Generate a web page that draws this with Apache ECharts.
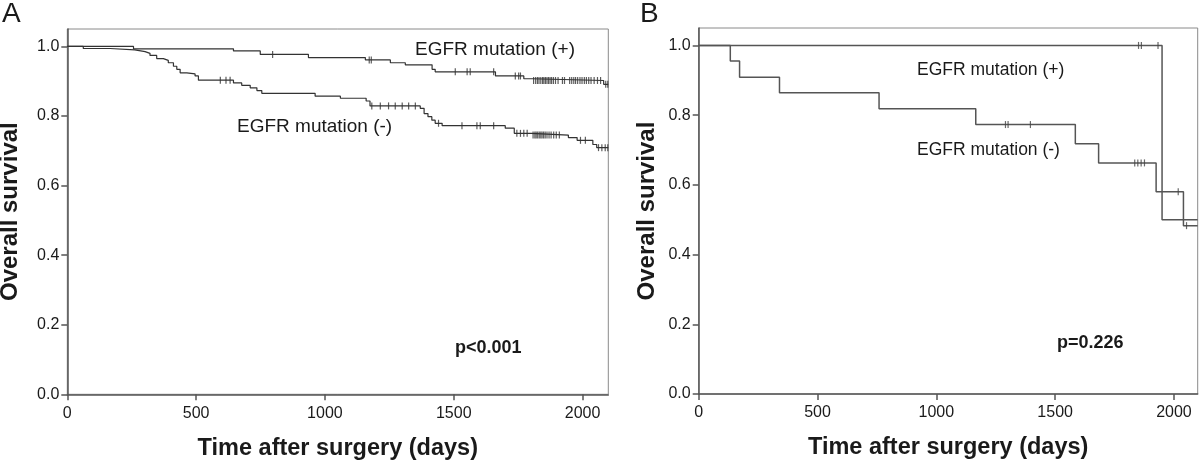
<!DOCTYPE html>
<html>
<head>
<meta charset="utf-8">
<script src="https://cdn.jsdelivr.net/npm/echarts@6/dist/echarts.min.js"></script>
<style>
html,body{margin:0;padding:0;background:#fff;}
#chart{width:1200px;height:460px;}
</style>
</head>
<body>
<div id="chart"></div>
<script>
// ---- Data ----
const xTicks = [0, 500, 1000, 1500, 2000];
const yTicks = [0, 0.2, 0.4, 0.6, 0.8, 1.0];
const xMax = 2100;
const yMax = 1.05;

// Panel A, EGFR mutation (+): step times (days) and survival after each step
const aPosTimes = [0, 257, 645, 749, 936, 1157, 1254, 1312, 1416, 1428, 1662, 1772, 1804, 2082, 2100];
const aPosSurv  = [1.0, 0.993, 0.987, 0.977, 0.968, 0.961, 0.953, 0.947, 0.934, 0.927, 0.915, 0.907, 0.902, 0.891, 0.891];
const aPosCensor = [797, 1172, 1180, 1506, 1552, 1564, 1655, 1739, 1752, 1759,
  1810, 1818, 1825, 1831, 1838, 1845, 1850, 1856, 1862, 1868, 1874, 1880, 1887, 1895, 1905,
  1922, 1930, 1950, 1958, 1966, 1973, 1981, 1990, 1998, 2007, 2015, 2024, 2033, 2045, 2058, 2070, 2090, 2098];

// Panel A, EGFR mutation (-)
const aNegTimes = [0, 62, 166, 262, 302, 321, 347, 373, 392, 412, 425, 438, 464, 496, 509,
  645, 677, 710, 736, 755, 962, 1060, 1160, 1175, 1370, 1385, 1400, 1415, 1428, 1455,
  1700, 1735, 1800, 1945, 1979, 2040, 2055, 2100];
const aNegSurv = [1.0, 0.994, 0.990, 0.985, 0.980, 0.974, 0.965, 0.960, 0.953, 0.943, 0.934, 0.924, 0.921, 0.915, 0.903,
  0.895, 0.888, 0.881, 0.873, 0.865, 0.857, 0.851, 0.843, 0.829, 0.822, 0.807, 0.798, 0.788, 0.779, 0.772,
  0.765, 0.750, 0.745, 0.738, 0.730, 0.718, 0.709, 0.709];
const aNegCensor = [594, 616, 632, 1182, 1215, 1247, 1273, 1300, 1325, 1351, 1441, 1532, 1590, 1603, 1655,
  1745, 1759, 1772, 1785, 1808, 1815, 1820, 1826, 1832, 1838, 1843, 1849, 1855, 1862, 1870, 1878, 1888, 1898, 1910,
  1992, 2011, 2062, 2075, 2088, 2098];

// Panel B, EGFR mutation (+)
const bPosTimes = [0, 1950, 2100];
const bPosSurv  = [1.0, 0.5, 0.5];
const bPosCensor = [1851, 1863, 1933];

// Panel B, EGFR mutation (-)
const bNegTimes = [0, 133, 172, 340, 759, 1166, 1585, 1683, 1925, 2040, 2100];
const bNegSurv  = [1.0, 0.955, 0.909, 0.864, 0.818, 0.773, 0.718, 0.663, 0.580, 0.483, 0.483];
const bNegCensor = [1291, 1302, 1396, 1835, 1848, 1862, 1876, 2018, 2053];

// ---- helpers ----
function steps(times, surv){ return times.map((t,i)=>[t, surv[i]]); }
function survAt(times, surv, t){
  let v = surv[0];
  for (let i=0;i<times.length;i++){ if (times[i] <= t) v = surv[i]; }
  return v;
}
function censors(list, times, surv){ return list.map(t=>[t, survAt(times, surv, t)]); }

const FONT = 'Liberation Sans, Arial, sans-serif';
const txt = '#1a1a1a';

function xAxisDef(idx){
  return {
    type:'value', gridIndex: idx, min:0, max:xMax, interval:500,
    name:'Time after surgery (days)', nameLocation:'middle', nameGap:42,
    nameTextStyle:{fontFamily:FONT, fontWeight:'bold', fontSize:23.5, color:txt},
    axisLine:{show:true, onZero:false, lineStyle:{color:'#555', width:1.5}},
    axisTick:{show:true, length:6, customValues:xTicks, lineStyle:{color:'#555', width:1.5}},
    axisLabel:{customValues:xTicks, fontFamily:FONT, fontSize:16, color:txt, margin:11,
      formatter:v=>String(Math.round(v))},
    splitLine:{show:false}
  };
}
function yAxisDef(idx, gap){
  return {
    type:'value', gridIndex: idx, min:0, max:yMax, interval:0.2,
    name:'Overall survival', nameLocation:'middle', nameGap:gap,
    nameTextStyle:{fontFamily:FONT, fontWeight:'bold', fontSize:24, color:txt},
    axisLine:{show:true, onZero:false, lineStyle:{color:'#555', width:1.5}},
    axisTick:{show:true, length:6, customValues:yTicks, lineStyle:{color:'#555', width:1.5}},
    axisLabel:{customValues:yTicks, fontFamily:FONT, fontSize:16, color:txt, margin:8,
      formatter:v=>Number(v).toFixed(1)},
    splitLine:{show:false}
  };
}
function lineSeries(idx, data, color, width){
  return {type:'line', xAxisIndex:idx, yAxisIndex:idx, step:'end', data:data, symbol:'none',
    lineStyle:{color:color, width:width}, silent:true, clip:true, animation:false, z:3};
}
function censorSeries(idx, data, color){
  return {type:'scatter', xAxisIndex:idx, yAxisIndex:idx, data:data, symbol:'rect', symbolSize:[1.2,7],
    itemStyle:{color:color}, silent:true, animation:false, z:4};
}

const chart = echarts.init(document.getElementById('chart'), null, {renderer:'canvas'});
chart.setOption({
  backgroundColor:'#fff',
  animation:false,
  grid:[
    {left:67.3, top:29, width:541, height:365.3, show:true, borderColor:'#8a8a8a', borderWidth:1,
      backgroundColor:'transparent', containLabel:false, outerBoundsMode:'none'},
    {left:698.7, top:28, width:499, height:366, show:true, borderColor:'#8a8a8a', borderWidth:1,
      backgroundColor:'transparent', containLabel:false, outerBoundsMode:'none'}
  ],
  xAxis:[xAxisDef(0), xAxisDef(1)],
  yAxis:[yAxisDef(0, 45), yAxisDef(1, 39)],
  series:[
    lineSeries(0, steps(aPosTimes, aPosSurv), '#333', 1.2),
    lineSeries(0, steps(aNegTimes, aNegSurv), '#333', 1.2),
    censorSeries(0, censors(aPosCensor, aPosTimes, aPosSurv), '#333'),
    censorSeries(0, censors(aNegCensor, aNegTimes, aNegSurv), '#333'),
    lineSeries(1, steps(bPosTimes, bPosSurv), '#555', 1.5),
    lineSeries(1, steps(bNegTimes, bNegSurv), '#555', 1.5),
    censorSeries(1, censors(bPosCensor, bPosTimes, bPosSurv), '#444'),
    censorSeries(1, censors(bNegCensor, bNegTimes, bNegSurv), '#444')
  ],
  graphic:[
    {type:'text', left:2, top:0, style:{text:'A', font:'28px '+FONT, fill:txt}},
    {type:'text', left:640, top:0, style:{text:'B', font:'28px '+FONT, fill:txt}},
    {type:'text', x:415, y:50, style:{text:'EGFR mutation (+)', font:'19px '+FONT, fill:txt, verticalAlign:'middle'}},
    {type:'text', x:237, y:127, style:{text:'EGFR mutation (-)', font:'19px '+FONT, fill:txt, verticalAlign:'middle'}},
    {type:'text', x:455, y:348, style:{text:'p<0.001', font:'bold 18px '+FONT, fill:txt, verticalAlign:'middle'}},
    {type:'text', x:917, y:70, style:{text:'EGFR mutation (+)', font:'17.5px '+FONT, fill:txt, verticalAlign:'middle'}},
    {type:'text', x:917, y:150, style:{text:'EGFR mutation (-)', font:'17.5px '+FONT, fill:txt, verticalAlign:'middle'}},
    {type:'text', x:1057, y:343, style:{text:'p=0.226', font:'bold 18px '+FONT, fill:txt, verticalAlign:'middle'}}
  ]
});
</script>
</body>
</html>
